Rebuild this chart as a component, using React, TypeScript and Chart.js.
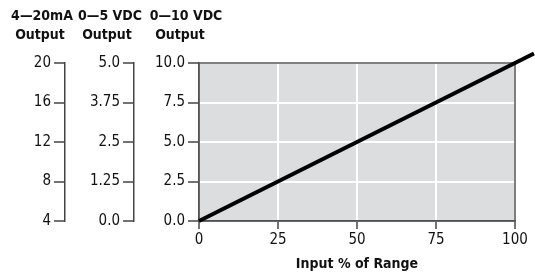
import React, { useEffect, useRef } from "react";
import { Chart, registerables } from "chart.js";

Chart.register(...registerables);

// Data
const linePoints = [
  { x: 0, y: 0 },
  { x: 106, y: 10.6 },
];
const xTicks = [0, 25, 50, 75, 100];
const vdc10Ticks = [0, 2.5, 5, 7.5, 10];
const vdc10Labels = ["0.0", "2.5", "5.0", "7.5", "10.0"];
const vdc5Ticks = [0, 1.25, 2.5, 3.75, 5];
const vdc5Labels = ["0.0", "1.25", "2.5", "3.75", "5.0"];
const maTicks = [4, 8, 12, 16, 20];
const maLabels = ["4", "8", "12", "16", "20"];
const axisTitles = [
  { id: "yMA", line1: "4\u201420mA", line2: "Output", dx1: -23, dx2: -25 },
  { id: "yV5", line1: "0\u20145 VDC", line2: "Output", dx1: -24, dx2: -27 },
  { id: "y", line1: "0\u201410 VDC", line2: "Output", dx1: -13, dx2: -19 },
];
const xTitle = "Input % of Range";

const FONT = "'Liberation Sans Narrow', 'DejaVu Sans Condensed', 'Roboto', sans-serif";
const AXIS = "#444444";

const bgPlugin = {
  id: "plotBg",
  beforeDraw(chart: any) {
    const { ctx, chartArea: a } = chart;
    ctx.save();
    ctx.fillStyle = "#dcdddf";
    ctx.fillRect(a.left, a.top, a.right - a.left, a.bottom - a.top);
    ctx.restore();
  },
  beforeDatasetsDraw(chart: any) {
    const { ctx, chartArea: a } = chart;
    ctx.save();
    ctx.strokeStyle = "#555555";
    ctx.lineWidth = 1.5;
    ctx.strokeRect(a.left, a.top, a.right - a.left, a.bottom - a.top);
    ctx.restore();
  },
  afterDraw(chart: any) {
    const { ctx } = chart;
    ctx.save();
    ctx.fillStyle = "#111111";
    ctx.font = `bold 14px ${FONT}`;
    ctx.textAlign = "center";
    ctx.textBaseline = "middle";
    for (const t of axisTitles) {
      const s = chart.scales[t.id];
      ctx.fillText(t.line1, s.right + t.dx1, 16);
      ctx.fillText(t.line2, s.right + t.dx2, 35);
    }
    ctx.restore();
  },
};

function leftAxis(min: number, max: number, ticks: number[], labels: string[], width: number, weight: number, onArea: boolean) {
  return {
    type: "linear",
    position: "left",
    min,
    max,
    weight,
    afterBuildTicks: (s: any) => {
      s.ticks = ticks.map((v) => ({ value: v }));
    },
    afterFit: (s: any) => {
      s.width = width;
    },
    ticks: {
      color: "#111111",
      font: { size: 15, family: FONT },
      padding: 3,
      callback: (_v: any, i: number) => labels[i],
    },
    grid: {
      drawOnChartArea: onArea,
      color: "#ffffff",
      lineWidth: 2,
      tickColor: AXIS,
      tickLength: 11,
      tickWidth: 1.5,
    },
    border: { display: true, color: AXIS, width: 1.5 },
  };
}

export default function App() {
  const ref = useRef<HTMLCanvasElement | null>(null);
  useEffect(() => {
    if (!ref.current) return;
    const chart = new Chart(ref.current, {
      type: "line",
      data: {
        datasets: [
          {
            data: linePoints,
            borderColor: "#000000",
            borderWidth: 4,
            pointRadius: 0,
            clip: false,
            yAxisID: "y",
            xAxisID: "x",
          } as any,
        ],
      },
      options: {
        responsive: false,
        animation: false,
        layout: { padding: { left: 0, top: 63, right: 20, bottom: 0 } },
        plugins: { legend: { display: false }, tooltip: { enabled: false } },
        scales: {
          x: {
            type: "linear",
            min: 0,
            max: 100,
            afterBuildTicks: (s: any) => {
              s.ticks = xTicks.map((v) => ({ value: v }));
            },
            afterFit: (s: any) => {
              s.height = 54;
            },
            ticks: {
              color: "#111111",
              font: { size: 15, family: FONT },
              padding: 2,
              maxRotation: 0,
            },
            grid: {
              color: "#ffffff",
              lineWidth: 2,
              tickColor: AXIS,
              tickLength: 8,
              tickWidth: 1.5,
            },
            border: { display: true, color: AXIS, width: 1.5 },
            title: {
              display: true,
              text: xTitle,
              color: "#111111",
              font: { size: 14, weight: "bold", family: FONT },
              padding: { top: 0, bottom: 2 },
            },
          },
          yMA: leftAxis(4, 20, maTicks, maLabels, 65, 2, false),
          yV5: leftAxis(0, 5, vdc5Ticks, vdc5Labels, 69, 1, false),
          y: leftAxis(0, 10, vdc10Ticks, vdc10Labels, 65, 0, true),
        } as any,
      },
      plugins: [bgPlugin],
    });
    return () => chart.destroy();
  }, []);
  return (
    <div style={{ position: "absolute", left: 0, top: 0, width: 535, height: 275 }}>
      <canvas ref={ref} width={535} height={275} />
    </div>
  );
}
